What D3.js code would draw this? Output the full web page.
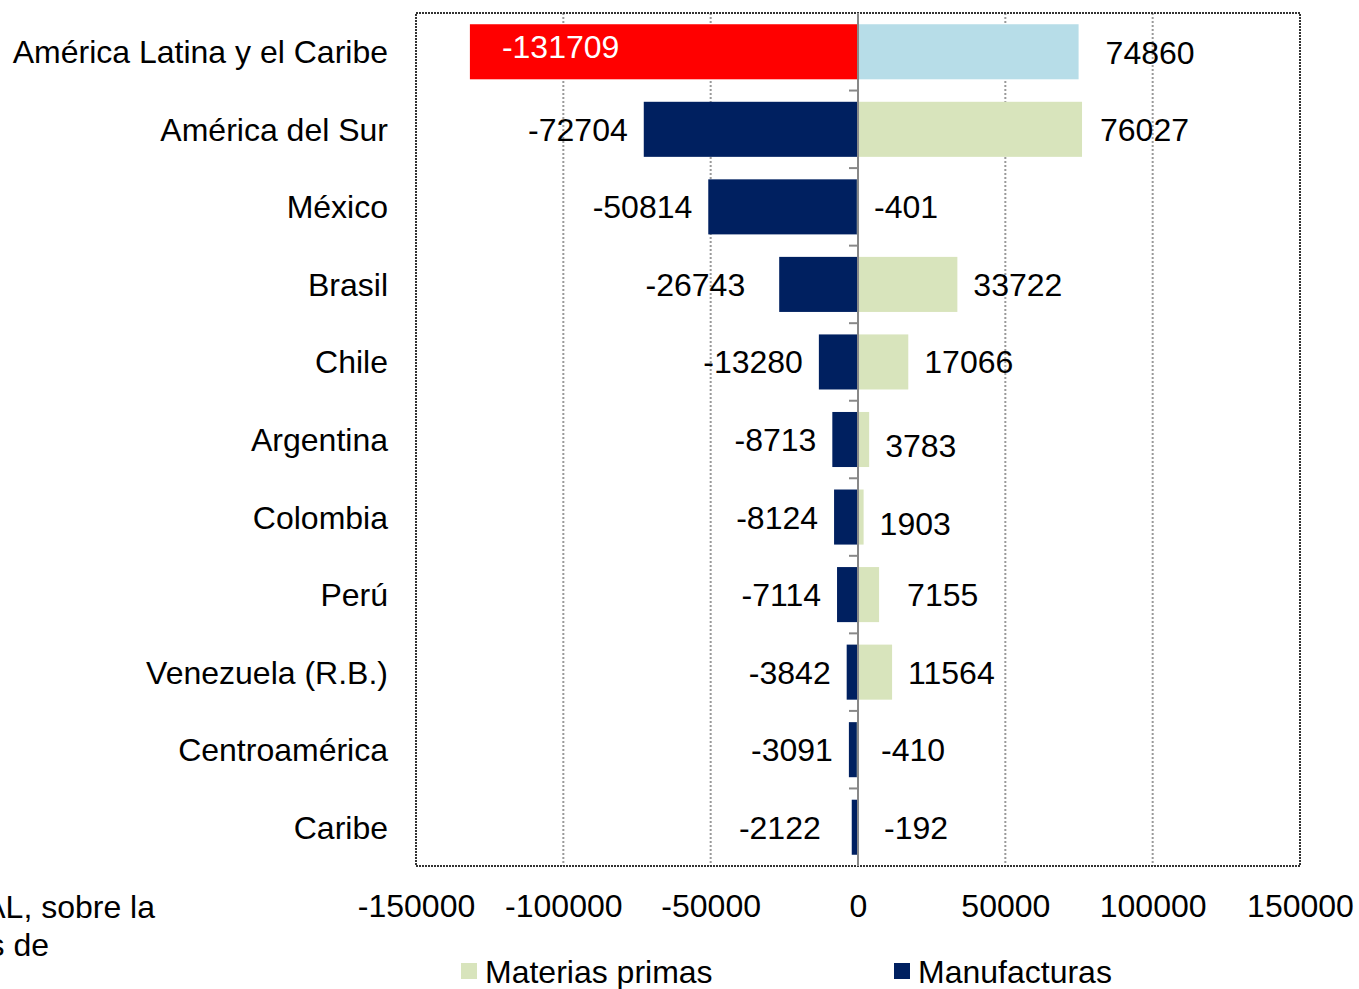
<!DOCTYPE html>
<html>
<head>
<meta charset="utf-8">
<script src="https://cdn.jsdelivr.net/npm/d3@7"></script>
<style>
  body { margin: 0; background: #fff; }
  svg { display: block; font-family: Arial, "Liberation Sans", sans-serif; }
</style>
</head>
<body>
<div id="chartContainer"></div>
<script>
// balanza comercial por tipo de bien
const categories = ["América Latina y el Caribe", "América del Sur", "México", "Brasil", "Chile",
  "Argentina", "Colombia", "Perú", "Venezuela (R.B.)", "Centroamérica", "Caribe"];
const manufacturas = [-131709, -72704, -50814, -26743, -13280, -8713, -8124, -7114, -3842, -3091, -2122];
const materiasPrimas = [74860, 76027, -401, 33722, 17066, 3783, 1903, 7155, 11564, -410, -192];
const xTicks = [-150000, -100000, -50000, 0, 50000, 100000, 150000];
const seriesNames = ["Materias primas", "Manufacturas"];
const noteLines = ["CEPAL, sobre la", "datos de"];

(function() {
    const fullWidth = 1359, fullHeight = 989;
    const margin = {top: 13, right: 59, bottom: 123, left: 416};
    const width = fullWidth - margin.left - margin.right;
    const height = fullHeight - margin.top - margin.bottom;
    const fontSize = 32;

    const colors = {mp: "#d8e4bc", man: "#002060", mpTotal: "#b7dde8", manTotal: "#ff0000"};

    // hand-placed label nudges (px) as in the original
    const manNudge = {3: -18, 10: -15};
    const mpNudge = {0: [11, 1], 1: [2, 0], 5: [0, 6], 6: [0, 6], 7: [12, 0], 9: [7, 0], 10: [10, 0]};

    const svg = d3.select("#chartContainer").append("svg")
        .attr("width", fullWidth)
        .attr("height", fullHeight);

    const x = d3.scaleLinear().domain([-150000, 150000]).range([0, width]);
    const y = d3.scaleBand().domain(categories).range([0, height])
        .paddingInner(0.29).paddingOuter(0.145);

    const g = svg.append("g").attr("transform", `translate(${margin.left},${margin.top})`);

    // gridlines
    g.append("g")
        .selectAll("line")
        .data(xTicks.filter(d => d !== 0 && Math.abs(d) !== 150000))
        .join("line")
          .attr("x1", d => x(d)).attr("x2", d => x(d))
          .attr("y1", 0).attr("y2", height)
          .attr("stroke", "#9a9a9a")
          .attr("stroke-width", 2)
          .attr("stroke-dasharray", "2,2");

    // plot border
    g.append("rect")
        .attr("x", 0).attr("y", 0)
        .attr("width", width).attr("height", height)
        .attr("fill", "none")
        .attr("stroke", "#333")
        .attr("stroke-width", 2)
        .attr("stroke-dasharray", "2,1");

    const rows = categories.map((c, i) => ({c, i, man: manufacturas[i], mp: materiasPrimas[i]}));

    // manufacturas bars
    g.append("g").selectAll("rect")
        .data(rows)
        .join("rect")
          .attr("x", d => x(Math.min(d.man, 0)))
          .attr("width", d => Math.abs(x(d.man) - x(0)))
          .attr("y", d => y(d.c))
          .attr("height", y.bandwidth())
          .attr("fill", d => d.i === 0 ? colors.manTotal : colors.man);

    // materias primas bars
    g.append("g").selectAll("rect")
        .data(rows)
        .join("rect")
          .attr("x", d => x(Math.min(d.mp, 0)))
          .attr("width", d => Math.abs(x(d.mp) - x(0)))
          .attr("y", d => y(d.c))
          .attr("height", y.bandwidth())
          .attr("fill", d => d.i === 0 ? colors.mpTotal : colors.mp);

    // zero axis + category ticks
    g.append("line")
        .attr("x1", x(0)).attr("x2", x(0))
        .attr("y1", 0).attr("y2", height)
        .attr("stroke", "#888").attr("stroke-width", 2);
    g.append("g").selectAll("line")
        .data(categories.slice(1))
        .join("line")
          .attr("x1", x(0) - 9).attr("x2", x(0))
          .attr("y1", d => y(d) - y.step() * y.paddingInner() / 2)
          .attr("y2", d => y(d) - y.step() * y.paddingInner() / 2)
          .attr("stroke", "#888").attr("stroke-width", 2);

    // value labels
    const gap = 16;
    g.append("g").selectAll("text")
        .data(rows)
        .join("text")
          .attr("x", d => d.i === 0 ? x(d.man) + 32 : x(d.man) - gap + (manNudge[d.i] || 0))
          .attr("y", d => y(d.c) + y.bandwidth() / 2 + (d.i === 0 ? -5 : 0))
          .attr("dy", "0.36em")
          .attr("text-anchor", d => d.i === 0 ? "start" : "end")
          .attr("fill", d => d.i === 0 ? "#fff" : "#000")
          .style("font-size", fontSize + "px")
          .text(d => d.man);
    g.append("g").selectAll("text")
        .data(rows)
        .join("text")
          .attr("x", d => x(Math.max(d.mp, 0)) + gap + (mpNudge[d.i] ? mpNudge[d.i][0] : 0))
          .attr("y", d => y(d.c) + y.bandwidth() / 2 + (mpNudge[d.i] ? mpNudge[d.i][1] : 0))
          .attr("dy", "0.36em")
          .attr("text-anchor", "start")
          .style("font-size", fontSize + "px")
          .text(d => d.mp);

    // category labels
    g.append("g").selectAll("text")
        .data(categories)
        .join("text")
          .attr("x", -28)
          .attr("y", d => y(d) + y.bandwidth() / 2)
          .attr("dy", "0.36em")
          .attr("text-anchor", "end")
          .style("font-size", fontSize + "px")
          .text(d => d);

    // x axis labels
    const xAxis = d3.axisBottom(x).tickValues(xTicks).tickSize(0).tickPadding(28).tickFormat(d => d);
    const ax = g.append("g").attr("transform", `translate(0,${height})`).call(xAxis);
    ax.select(".domain").remove();
    ax.selectAll("text")
        .attr("fill", "#000")
        .style("font-size", fontSize + "px")
        .style("font-family", "Arial, 'Liberation Sans', sans-serif");

    // legend
    const legend = svg.append("g");
    const legendItems = [
        {name: seriesNames[0], color: colors.mp, x: 461},
        {name: seriesNames[1], color: colors.man, x: 894}
    ];
    legendItems.forEach(it => {
        legend.append("rect")
            .attr("x", it.x).attr("y", 963)
            .attr("width", 16).attr("height", 16)
            .attr("fill", it.color);
        legend.append("text")
            .attr("x", it.x + 24).attr("y", 983)
            .style("font-size", fontSize + "px")
            .text(it.name);
    });

    // fuente (cortada en el original)
    svg.append("g").selectAll("text")
        .data(noteLines)
        .join("text")
          .attr("x", (d, i) => i === 0 ? 155 : 49)
          .attr("y", (d, i) => 918 + i * 38)
          .attr("text-anchor", "end")
          .style("font-size", fontSize + "px")
          .text(d => d);
})();
</script>
</body>
</html>
